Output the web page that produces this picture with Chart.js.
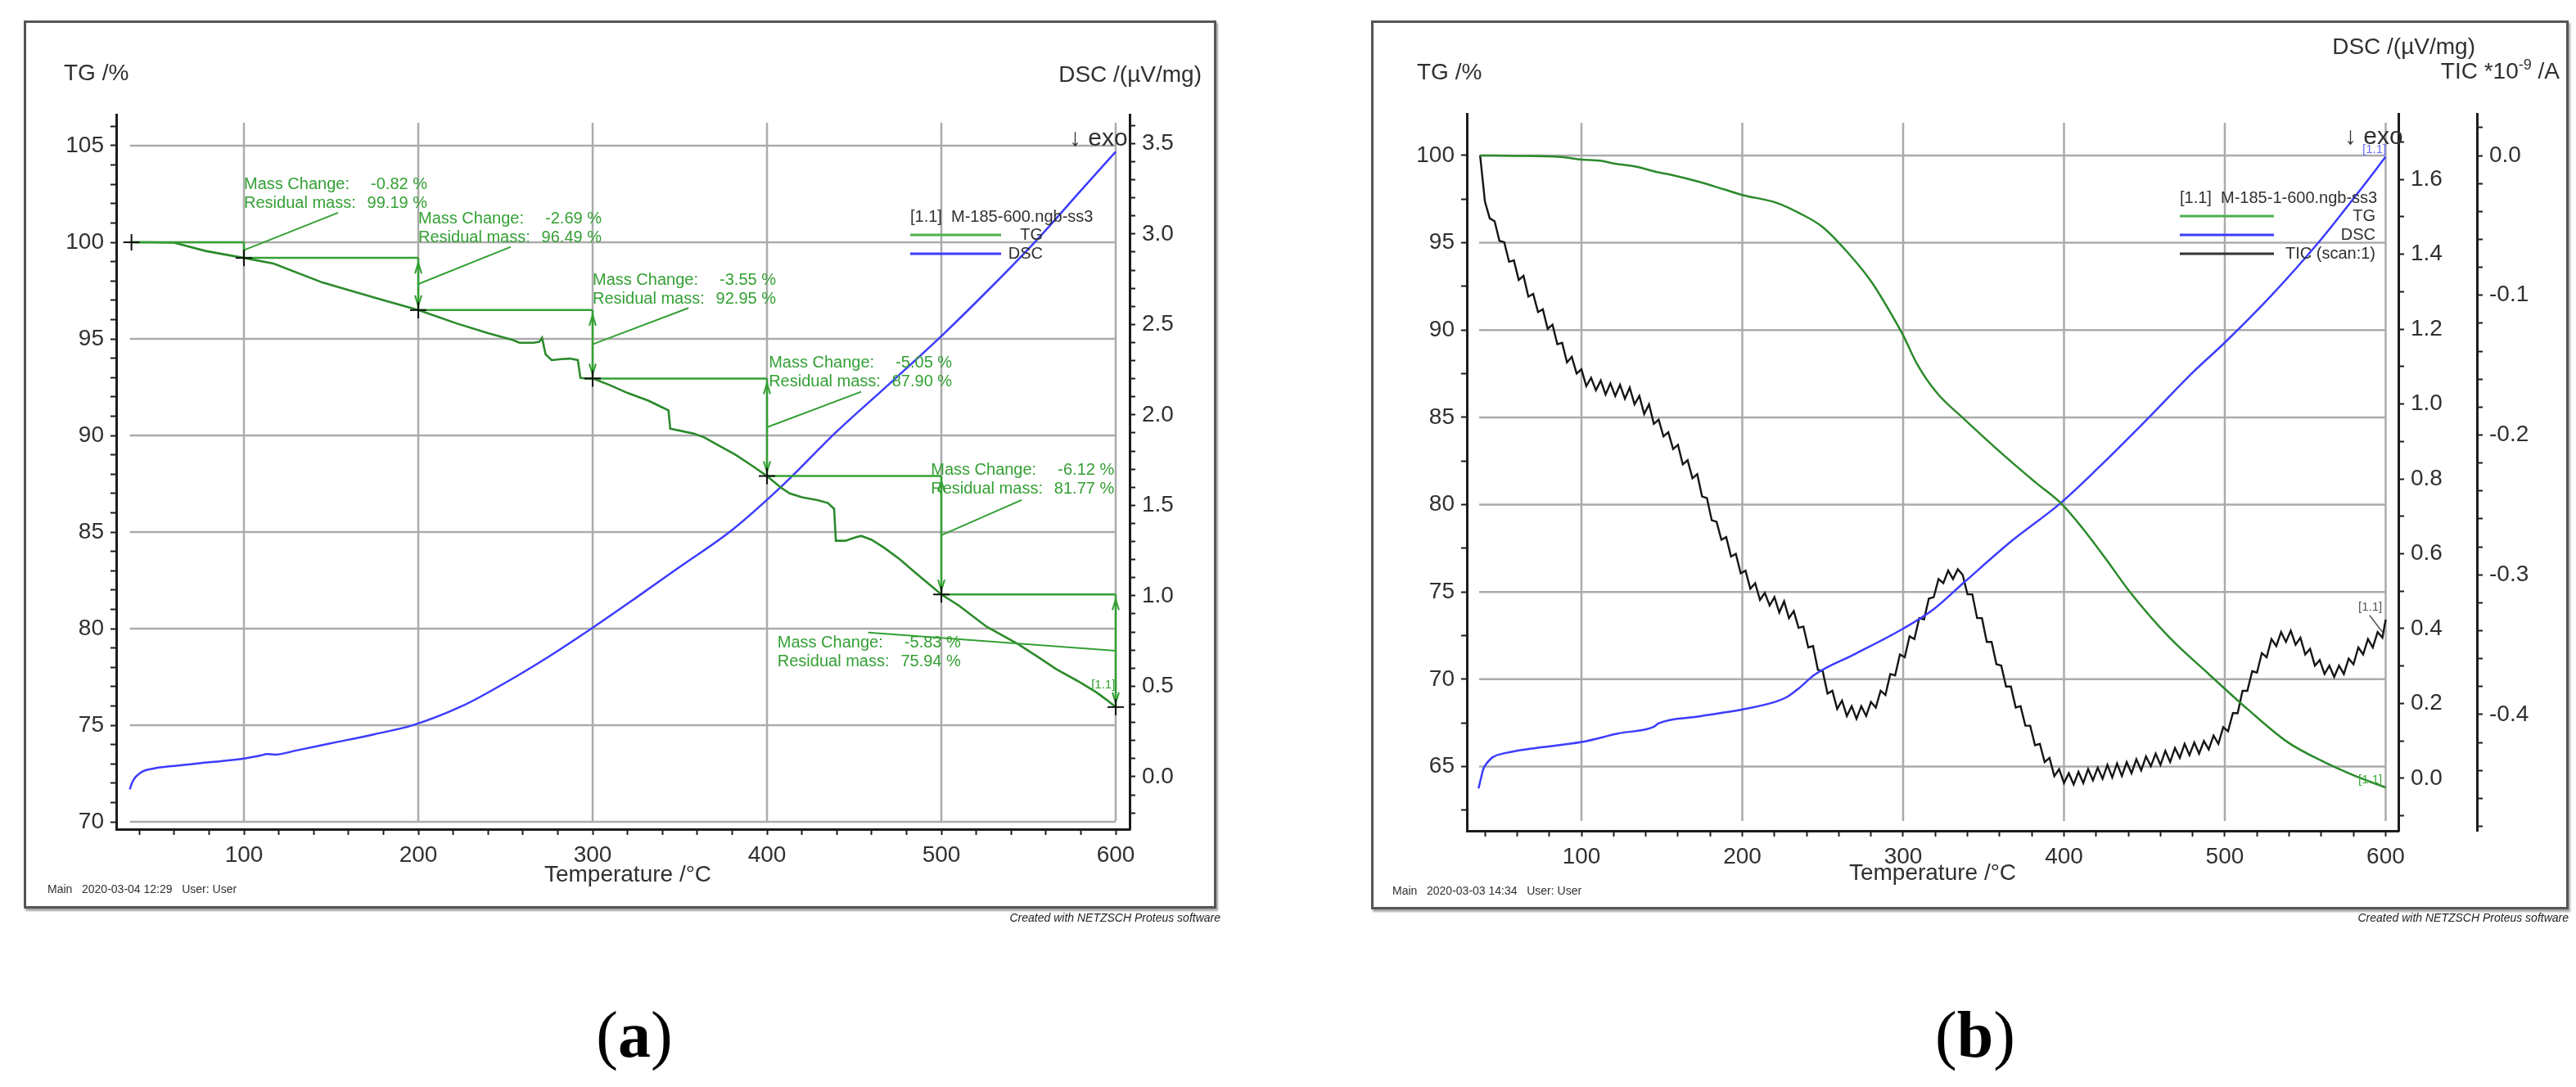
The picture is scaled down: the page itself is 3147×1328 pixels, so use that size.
<!DOCTYPE html>
<html>
<head>
<meta charset="utf-8">
<title>TG-DSC M-185</title>
<script src="https://cdn.jsdelivr.net/npm/chart.js@4.4.1/dist/chart.umd.min.js"></script>
<style>
  html, body { margin: 0; padding: 0; background: #fff; }
  body { position: relative; width: 3147px; height: 1328px; overflow: hidden; font-family: "Liberation Sans", Arial, sans-serif; }
  canvas { position: absolute; }
  .frame { position: absolute; box-sizing: border-box; border: 3px solid #555; box-shadow: 2px 3px 2px rgba(0,0,0,0.35); pointer-events: none; }
  .created { position: absolute; width: 320px; text-align: right; font-style: italic; font-size: 14px; line-height: 16px; color: #222; white-space: pre; }
  .cap { position: absolute; width: 200px; text-align: center; font-family: "Liberation Serif", "Times New Roman", serif; font-size: 80px; line-height: 80px; color: #000; }
</style>
</head>
<body>
<canvas id="chartA" width="1457" height="1085" style="left:29px;top:25px"></canvas>
<div class="frame" style="left:29px;top:25px;width:1457px;height:1085px"></div>
<div class="created" style="left:1171px;top:1113px">Created with NETZSCH Proteus software</div>

<canvas id="chartB" width="1463" height="1086" style="left:1675px;top:25px"></canvas>
<div class="frame" style="left:1675px;top:25px;width:1463px;height:1086px"></div>
<div class="created" style="left:2818px;top:1113px">Created with NETZSCH Proteus software</div>

<div class="cap" style="left:675px;top:1224px">(<b>a</b>)</div>
<div class="cap" style="left:2313px;top:1224px">(<b>b</b>)</div>

<script>
// ---- panel (a): M-185-600 ----
const T_TG_A = [35, 45, 60, 78, 100, 117, 145, 161, 180, 200, 222, 240, 254, 258, 266, 269.5, 271, 273, 276.5, 282,
  287, 291.5, 293, 296, 300, 310, 320, 332, 340, 343.5, 344.5, 350, 358, 364, 372, 382, 392, 400, 408, 413,
  420, 429, 435, 438.5, 439.5, 445, 450, 454, 460, 467, 476, 485, 493, 500, 510, 526, 544, 556, 566, 578, 589, 595, 600];
const TG_A = [100, 100, 99.98, 99.55, 99.19, 98.9, 97.92, 97.5, 97.0, 96.49, 95.8, 95.3, 94.95, 94.8, 94.8, 94.85, 95.05, 94.2, 93.9, 93.95,
  93.98, 93.9, 92.98, 92.95, 92.95, 92.6, 92.2, 91.8, 91.45, 91.3, 90.35, 90.25, 90.1, 89.9, 89.5, 89.0, 88.4, 87.9, 87.3, 87.0,
  86.8, 86.65, 86.5, 86.2, 84.55, 84.55, 84.7, 84.8, 84.6, 84.2, 83.6, 82.9, 82.3, 81.77, 81.2, 80.1, 79.2, 78.5, 77.9, 77.3, 76.7, 76.3, 75.94];

const T_DSC_A = [34.5, 36, 38, 42, 48, 60, 80, 100, 110, 113, 118, 130, 150, 175, 197, 225, 250, 275, 301, 325,
  350, 380, 410, 440, 470, 501, 530, 556, 580, 600];
const DSC_A = [-0.07, -0.03, 0.0, 0.03, 0.045, 0.06, 0.08, 0.10, 0.118, 0.125, 0.122, 0.145, 0.185, 0.235, 0.285, 0.39, 0.52, 0.665, 0.83, 0.99,
  1.16, 1.364, 1.62, 1.908, 2.17, 2.445, 2.72, 2.98, 3.24, 3.455];

// mass-change evaluation (step limits and residual masses)
const STEP_T_A = [35.5, 100, 200, 300, 400, 500, 600];
const STEP_TG_A = [100, 99.19, 96.49, 92.95, 87.90, 81.77, 75.94];
const MASS_CHANGE_A = [-0.82, -2.69, -3.55, -5.05, -6.12, -5.83];
const NOTE_AT_A = [[100, 102.97], [200, 101.2], [300, 98.02], [401, 93.73], [494, 88.21], [406, 79.24]];
const LEADER_FROM_A = [[154, 101.53], [253, 99.76], [355, 96.6], [454, 92.26], [546, 86.66], [458, 79.8]];

// ---- panel (b): M-185-1-600 ----
const T_TG_B = [37, 60, 87, 100, 112.5, 121, 133.7, 146.5, 155, 172, 189, 200, 221, 235.5, 250, 265, 280, 294, 300, 309,
  321, 338, 363, 382, 399, 412, 426, 441, 465.5, 490, 514, 539, 563, 580, 600];
const TG_B = [100, 99.98, 99.92, 99.77, 99.69, 99.53, 99.37, 99.06, 98.91, 98.52, 98.05, 97.74, 97.3, 96.7, 95.9, 94.5, 92.8, 90.7, 89.7, 88.0,
  86.4, 84.9, 82.8, 81.3, 80.0, 78.6, 76.9, 75.0, 72.4, 70.3, 68.3, 66.4, 65.2, 64.5, 63.8];

const T_DSC_B = [36, 37.5, 39, 42, 45, 53, 68, 100, 123, 145, 148, 172, 200, 221, 228, 235, 245, 270, 300, 319,
  338, 368, 397, 421, 451, 480, 500, 529, 558, 583, 600];
const DSC_B = [-0.027, 0.0, 0.025, 0.045, 0.057, 0.068, 0.079, 0.097, 0.12, 0.138, 0.147, 0.165, 0.184, 0.205, 0.218, 0.24, 0.277, 0.332, 0.40, 0.452,
  0.524, 0.636, 0.732, 0.828, 0.956, 1.084, 1.164, 1.29, 1.43, 1.565, 1.66];

const T_TIC_B = [37, 40, 43, 46, 49, 52, 55, 58, 61, 64,
  67, 70, 73, 76, 79, 82, 85, 88, 91, 94,
  97, 100, 103, 106, 109, 112, 115, 118, 121, 124,
  127, 130, 133, 136, 139, 142, 145, 148, 151, 154,
  157, 160, 163, 166, 169, 172, 175, 178, 181, 184,
  187, 190, 193, 196, 199, 202, 205, 208, 211, 214,
  217, 220, 223, 226, 229, 232, 235, 238, 241, 244,
  247, 250, 253, 256, 259, 262, 265, 268, 271, 274,
  277, 280, 283, 286, 289, 292, 295, 298, 301, 304,
  307, 310, 313, 316, 319, 322, 325, 328, 331, 334,
  337, 340, 343, 346, 349, 352, 355, 358, 361, 364,
  367, 370, 373, 376, 379, 382, 385, 388, 391, 394,
  397, 400, 403, 406, 409, 412, 415, 418, 421, 424,
  427, 430, 433, 436, 439, 442, 445, 448, 451, 454,
  457, 460, 463, 466, 469, 472, 475, 478, 481, 484,
  487, 490, 493, 496, 499, 502, 505, 508, 511, 514,
  517, 520, 523, 526, 529, 532, 535, 538, 541, 544,
  547, 550, 553, 556, 559, 562, 565, 568, 571, 574,
  577, 580, 583, 586, 589, 592, 595, 598, 600];
const TIC_B = [0.000, -0.033, -0.045, -0.047, -0.061, -0.062, -0.076, -0.075, -0.089, -0.086,
  -0.101, -0.099, -0.112, -0.110, -0.124, -0.121, -0.135, -0.134, -0.148, -0.144,
  -0.156, -0.153, -0.165, -0.159, -0.168, -0.161, -0.171, -0.163, -0.172, -0.164,
  -0.174, -0.166, -0.178, -0.172, -0.185, -0.178, -0.192, -0.189, -0.201, -0.198,
  -0.210, -0.207, -0.221, -0.218, -0.231, -0.228, -0.244, -0.245, -0.261, -0.262,
  -0.275, -0.273, -0.287, -0.285, -0.299, -0.297, -0.310, -0.306, -0.318, -0.313,
  -0.322, -0.316, -0.327, -0.319, -0.331, -0.326, -0.338, -0.337, -0.352, -0.351,
  -0.368, -0.369, -0.385, -0.383, -0.396, -0.390, -0.401, -0.394, -0.403, -0.394,
  -0.401, -0.391, -0.395, -0.383, -0.386, -0.371, -0.372, -0.357, -0.359, -0.344,
  -0.346, -0.331, -0.332, -0.317, -0.316, -0.303, -0.306, -0.297, -0.303, -0.296,
  -0.300, -0.314, -0.314, -0.331, -0.331, -0.348, -0.348, -0.364, -0.365, -0.380,
  -0.380, -0.395, -0.394, -0.408, -0.408, -0.422, -0.421, -0.434, -0.431, -0.444,
  -0.439, -0.449, -0.442, -0.450, -0.441, -0.449, -0.439, -0.447, -0.438, -0.446,
  -0.436, -0.445, -0.435, -0.444, -0.434, -0.442, -0.432, -0.440, -0.430, -0.437,
  -0.428, -0.436, -0.426, -0.434, -0.424, -0.431, -0.421, -0.429, -0.420, -0.428,
  -0.419, -0.425, -0.415, -0.421, -0.409, -0.412, -0.399, -0.399, -0.383, -0.383,
  -0.369, -0.370, -0.356, -0.359, -0.346, -0.351, -0.341, -0.348, -0.340, -0.350,
  -0.345, -0.357, -0.353, -0.365, -0.361, -0.371, -0.365, -0.373, -0.365, -0.371,
  -0.360, -0.364, -0.352, -0.357, -0.346, -0.352, -0.341, -0.345, -0.332];

// grid values
const X_MAJOR = [100, 200, 300, 400, 500, 600];
const TG_GRID_A = [70, 75, 80, 85, 90, 95, 100, 105];
const TG_GRID_B = [65, 70, 75, 80, 85, 90, 95, 100];

const FONT = '"Liberation Sans", Arial, sans-serif';
const INK = '#303030';
const TG_GREEN = '#2b8a2b';
const NOTE_GREEN = '#34a034';
const DSC_BLUE = '#3c3cff';
const TIC_BLACK = '#151515';
const GRID_GRAY = '#ababab';

function pairs(xs, ys) { return xs.map((x, i) => ({ x: x, y: ys[i] })); }

function fmtEvery(step, dec) {
  return v => {
    const k = v / step;
    if (Math.abs(k - Math.round(k)) > 1e-6) return '';
    const r = Math.round(k) * step;
    return (Math.abs(r) < 1e-9 ? 0 : r).toFixed(dec);
  };
}

function scale(position, min, max, step, labelStep, dec, size, weight) {
  return {
    type: 'linear', position: position, min: min, max: max, weight: weight || 0,
    afterFit: s => { if (position === 'bottom') s.height = size; else s.width = size; },
    border: { display: true, color: '#1c1c1c', width: 3 },
    grid: { drawOnChartArea: false, drawTicks: true, tickLength: 7, tickWidth: 2, tickColor: '#1c1c1c' },
    ticks: {
      stepSize: step, includeBounds: false, autoSkip: false, maxRotation: 0, minRotation: 0,
      padding: 8, maxTicksLimit: 1000, color: INK, font: { family: FONT, size: 28 },
      callback: fmtEvery(labelStep, dec)
    }
  };
}

function seg(ctx, x0, y0, x1, y1) { ctx.beginPath(); ctx.moveTo(x0, y0); ctx.lineTo(x1, y1); ctx.stroke(); }

// open arrow head, tip at (x, y); dir -1 points up, +1 points down
function head(ctx, x, y, dir) {
  ctx.beginPath(); ctx.moveTo(x - 4, y - dir * 13); ctx.lineTo(x, y); ctx.lineTo(x + 4, y - dir * 13); ctx.stroke();
}

function text(ctx, s, x, y, size, color, align) {
  ctx.font = size + 'px ' + FONT;
  ctx.fillStyle = color || INK;
  ctx.textAlign = align || 'left';
  ctx.textBaseline = 'middle';
  ctx.fillText(s, x, y);
}

function drawGrid(chart, g) {
  const ctx = chart.ctx, a = chart.chartArea, x = chart.scales.x, y = chart.scales.y;
  ctx.save();
  ctx.strokeStyle = GRID_GRAY; ctx.lineWidth = 2.5;
  g.xs.forEach(v => { const px = x.getPixelForValue(v); seg(ctx, px, a.top + g.top, px, a.bottom - g.bottom); });
  const x0 = x.getPixelForValue(g.from), x1 = x.getPixelForValue(g.to);
  g.ys.forEach(v => { const py = y.getPixelForValue(v); seg(ctx, x0, py, x1, py); });
  ctx.restore();
}

function legend(ctx, title, items, left, top, right, len) {
  text(ctx, title, left, top, 20, INK);
  items.forEach((it, i) => {
    const yy = top + 22 + i * 23;
    ctx.strokeStyle = it.color; ctx.lineWidth = 3;
    seg(ctx, left, yy, left + len, yy);
    text(ctx, it.label, right, yy, 20, INK, 'right');
  });
}

const decorA = {
  id: 'decorA',
  beforeDatasetsDraw(chart) {
    drawGrid(chart, { xs: X_MAJOR, ys: TG_GRID_A, from: 34.5, to: 600, top: 10, bottom: 10 });
  },
  afterDatasetsDraw(chart) {
    const ctx = chart.ctx, x = chart.scales.x, y = chart.scales.y;
    ctx.save();
    ctx.strokeStyle = NOTE_GREEN; ctx.fillStyle = NOTE_GREEN;
    for (let i = 0; i < STEP_T_A.length - 1; i++) {
      const x0 = x.getPixelForValue(STEP_T_A[i]), x1 = x.getPixelForValue(STEP_T_A[i + 1]);
      const y0 = y.getPixelForValue(STEP_TG_A[i]), y1 = y.getPixelForValue(STEP_TG_A[i + 1]);
      ctx.lineWidth = 2.5;
      seg(ctx, x0, y0, x1, y0);
      seg(ctx, x1, y0, x1, y1);
      ctx.lineWidth = 2;
      if (y1 - y0 > 40) { head(ctx, x1, y0 + 6, -1); head(ctx, x1, y1 - 5, 1); }
      const lf = LEADER_FROM_A[i];
      seg(ctx, x.getPixelForValue(lf[0]), y.getPixelForValue(lf[1]), x1, (y0 + y1) / 2);
    }
    ctx.strokeStyle = '#111'; ctx.lineWidth = 2;
    STEP_T_A.forEach((t, i) => {
      const px = x.getPixelForValue(t), py = y.getPixelForValue(STEP_TG_A[i]);
      seg(ctx, px - 10, py, px + 10, py);
      seg(ctx, px, py - 10, px, py + 10);
    });
    ctx.restore();
  },
  afterDraw(chart) {
    const ctx = chart.ctx, a = chart.chartArea, x = chart.scales.x, y = chart.scales.y;
    ctx.save();
    NOTE_AT_A.forEach((p, i) => {
      const px = x.getPixelForValue(p[0]), py = y.getPixelForValue(p[1]);
      text(ctx, 'Mass Change:', px, py, 20, NOTE_GREEN);
      text(ctx, MASS_CHANGE_A[i].toFixed(2) + ' %', px + 224, py, 20, NOTE_GREEN, 'right');
      text(ctx, 'Residual mass:', px, py + 23, 20, NOTE_GREEN);
      text(ctx, STEP_TG_A[i + 1].toFixed(2) + ' %', px + 224, py + 23, 20, NOTE_GREEN, 'right');
    });
    text(ctx, '[1.1]', x.getPixelForValue(586), y.getPixelForValue(77.1), 15, NOTE_GREEN);
    text(ctx, 'TG /%', 49, 65, 28);
    text(ctx, 'DSC /(µV/mg)', 1439, 67, 28, INK, 'right');
    text(ctx, 'Temperature /°C', (a.left + a.right) / 2 + 6, 1044, 28, INK, 'center');
    text(ctx, 'Main   2020-03-04 12:29   User: User', 29, 1062, 14);
    text(ctx, '↓ exo', 1277, 145, 30);
    legend(ctx, '[1.1]  M-185-600.ngb-ss3',
      [{ label: 'TG', color: '#4caf4c' }, { label: 'DSC', color: DSC_BLUE }], 1083, 240, 1245, 111);
    ctx.restore();
  }
};

const decorB = {
  id: 'decorB',
  beforeDatasetsDraw(chart) {
    drawGrid(chart, { xs: X_MAJOR, ys: TG_GRID_B, from: 36.4, to: 600, top: 11, bottom: 12 });
  },
  afterDraw(chart) {
    const ctx = chart.ctx, a = chart.chartArea, x = chart.scales.x;
    const yTG = chart.scales.y, yDSC = chart.scales.y1, yTIC = chart.scales.y2;
    ctx.save();
    text(ctx, 'TG /%', 56, 64, 28);
    text(ctx, 'DSC /(µV/mg)', 1349, 33, 28, INK, 'right');
    // TIC *10^-9 /A with raised exponent
    ctx.font = '28px ' + FONT; const w1 = ctx.measureText('TIC *10').width, w3 = ctx.measureText(' /A').width;
    ctx.font = '18px ' + FONT; const w2 = ctx.measureText('-9').width;
    const tx = 1452 - (w1 + w2 + w3);
    text(ctx, 'TIC *10', tx, 63, 28);
    text(ctx, '-9', tx + w1, 55, 18);
    text(ctx, ' /A', tx + w1 + w2, 63, 28);
    text(ctx, 'Temperature /°C', (a.left + a.right) / 2, 1042, 28, INK, 'center');
    text(ctx, 'Main   2020-03-03 14:34   User: User', 26, 1064, 14);
    text(ctx, '↓ exo', 1189, 143, 30);
    legend(ctx, '[1.1]  M-185-1-600.ngb-ss3',
      [{ label: 'TG', color: '#4caf4c' }, { label: 'DSC', color: DSC_BLUE }, { label: 'TIC (scan:1)', color: '#333' }],
      988, 217, 1227, 115);
    text(ctx, '[1.1]', x.getPixelForValue(585.5), yDSC.getPixelForValue(1.679), 15, '#6a6aff');
    text(ctx, '[1.1]', x.getPixelForValue(583), yTIC.getPixelForValue(-0.323), 15, '#555');
    ctx.strokeStyle = '#555'; ctx.lineWidth = 1.5;
    seg(ctx, x.getPixelForValue(590), yTIC.getPixelForValue(-0.329), x.getPixelForValue(598), yTIC.getPixelForValue(-0.341));
    text(ctx, '[1.1]', x.getPixelForValue(583), yTG.getPixelForValue(64.23), 15, '#3aa83a');
    ctx.restore();
  }
};

const baseOptions = {
  responsive: false,
  animation: false,
  devicePixelRatio: 1,
  plugins: { legend: { display: false }, tooltip: { enabled: false } },
  elements: { point: { radius: 0 } }
};

new Chart(document.getElementById('chartA'), {
  type: 'line',
  data: {
    datasets: [
      { label: 'TG', data: pairs(T_TG_A, TG_A), yAxisID: 'y', borderColor: TG_GREEN, borderWidth: 2.6, pointRadius: 0, tension: 0 },
      { label: 'DSC', data: pairs(T_DSC_A, DSC_A), yAxisID: 'y1', borderColor: DSC_BLUE, borderWidth: 2.5, pointRadius: 0, cubicInterpolationMode: 'monotone' }
    ]
  },
  options: Object.assign({}, baseOptions, {
    layout: { padding: { top: 115, left: 0, right: 0, bottom: 0 } },
    scales: {
      x: scale('bottom', 26.76, 607.98, 20, 100, 0, 97),
      y: scale('left', 69.62, 106.61, 1, 5, 0, 113),
      y1: scale('right', -0.29, 3.66, 0.1, 0.5, 1, 106)
    }
  }),
  plugins: [decorA]
});

new Chart(document.getElementById('chartB'), {
  type: 'line',
  data: {
    datasets: [
      { label: 'TG', data: pairs(T_TG_B, TG_B), yAxisID: 'y', borderColor: TG_GREEN, borderWidth: 2.5, pointRadius: 0, cubicInterpolationMode: 'monotone' },
      { label: 'DSC', data: pairs(T_DSC_B, DSC_B), yAxisID: 'y1', borderColor: DSC_BLUE, borderWidth: 2.5, pointRadius: 0, cubicInterpolationMode: 'monotone' },
      { label: 'TIC (scan:1)', data: pairs(T_TIC_B, TIC_B), yAxisID: 'y2', borderColor: TIC_BLACK, borderWidth: 2.4, pointRadius: 0, tension: 0 }
    ]
  },
  options: Object.assign({}, baseOptions, {
    layout: { padding: { top: 114, left: 0, right: 0, bottom: 0 } },
    scales: {
      x: scale('bottom', 28.75, 607.9, 20, 100, 0, 96),
      y: scale('left', 61.32, 102.39, 2.5, 5, 0, 117),
      y1: scale('right', -0.140, 1.775, 0.1, 0.2, 1, 96, 0),
      y2: scale('right', -0.4832, 0.0299, 0.02, 0.1, 1, 112, 1)
    }
  }),
  plugins: [decorB]
});
</script>
</body>
</html>
